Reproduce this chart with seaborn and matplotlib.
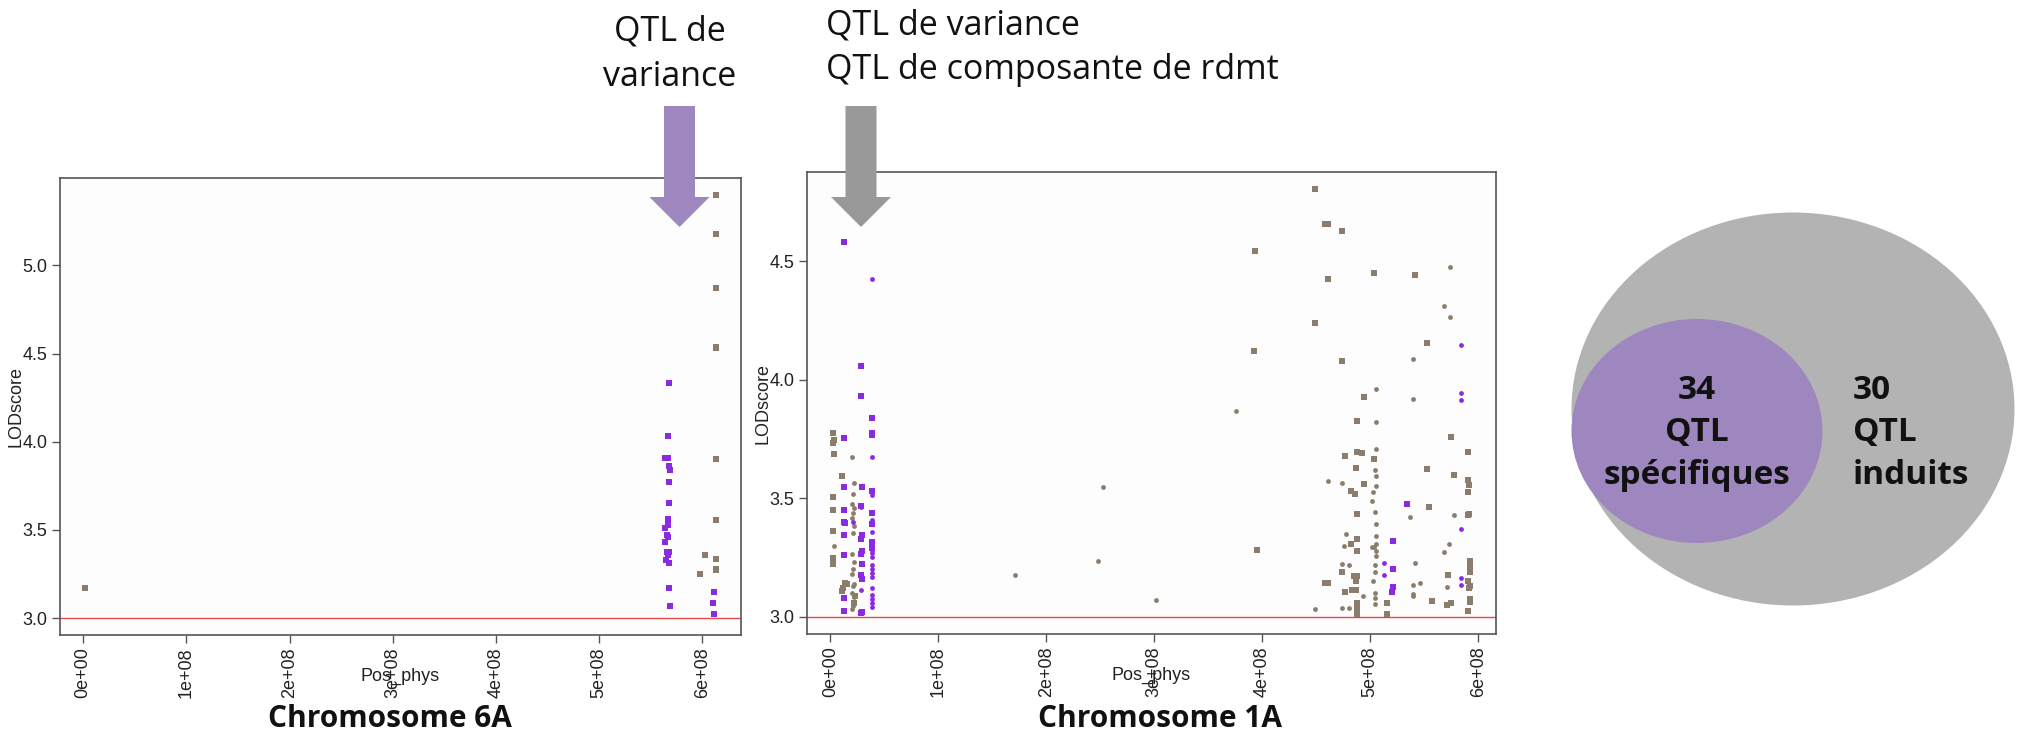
import pandas as pd
import numpy as np
import seaborn as sns
import matplotlib.pyplot as plt
from matplotlib.patches import Ellipse, Polygon

# ---------------- data (positions in Mb, LOD score) ----------------
# Chromosome 6A
c6a_brun_sq_x = [2, 613, 613, 613, 613, 613, 613, 613, 613, 613, 613, 603, 598]
c6a_brun_sq_y = [3.17, 5.40, 5.18, 4.87, 4.54, 4.53, 3.90, 3.555, 3.335, 3.28, 3.27, 3.355, 3.25]
c6a_violet_sq_x = [568, 567, 564, 567, 568, 569, 568, 568, 567, 567, 564, 566, 567, 564,
                   566, 568, 567, 565, 568, 568, 569, 611, 610, 611]
c6a_violet_sq_y = [4.335, 4.03, 3.91, 3.91, 3.86, 3.84, 3.77, 3.65, 3.56, 3.53, 3.51, 3.47, 3.46, 3.43,
                   3.375, 3.375, 3.355, 3.33, 3.31, 3.17, 3.07, 3.15, 3.085, 3.025]

# Chromosome 1A
c1a_brun_sq_x = [2, 3, 2, 3, 2, 2, 2, 2, 2, 11, 14, 11, 15, 12, 22, 23,
                 392.6, 393.5, 395,
                 449.3, 458.6, 461.1, 474.0, 461.1, 503.6, 449.3, 474.0, 494.3, 488.1, 476.5, 488.1,
                 492.1, 503.6, 486.5, 494.3, 481.8, 485.6, 488.1, 488.1, 481.8, 488.1, 474.0, 458.6,
                 461.1, 485.0, 488.1, 486.5, 483.4, 486.5, 476.5, 488.1, 488.1, 488.1, 488.1, 516.0, 516.0,
                 541.4, 552.8, 574.7, 590.5, 552.8, 577.5, 590.8, 591.4, 590.5, 554.3, 590.8, 591.4,
                 571.9, 592.0, 592.0, 592.9, 590.8, 592.0, 591.4, 592.9, 592.3, 556.8, 574.4, 571.3, 590.5]
c1a_brun_sq_y = [3.777, 3.746, 3.735, 3.688, 3.504, 3.45, 3.364, 3.25, 3.225, 3.596, 3.145, 3.11, 3.14, 3.12, 3.06, 3.09,
                 4.122, 4.545, 3.28,
                 4.804, 4.656, 4.656, 4.628, 4.423, 4.451, 4.241, 4.080, 3.929, 3.825, 3.678, 3.697,
                 3.690, 3.667, 3.627, 3.559, 3.531, 3.517, 3.432, 3.327, 3.308, 3.278, 3.190, 3.143,
                 3.143, 3.171, 3.171, 3.150, 3.115, 3.115, 3.105, 3.060, 3.039, 3.018, 3.008, 3.060, 3.014,
                 4.441, 4.157, 3.758, 3.695, 3.625, 3.600, 3.576, 3.555, 3.527, 3.462, 3.429, 3.436,
                 3.176, 3.234, 3.216, 3.189, 3.150, 3.129, 3.120, 3.077, 3.063, 3.069, 3.060, 3.049, 3.025]
c1a_brun_pt_x = [20, 22, 21, 20, 22, 21, 20, 22, 21, 20, 22, 21, 20, 22, 21, 20, 22, 21, 20, 3.6,
                 170.7, 248, 252.5, 301.4, 376,
                 505.8, 505.8, 505.2, 504.5, 505.2, 505.2, 461.1, 474.0, 503.0, 502.0, 504.5, 505.2,
                 505.2, 505.2, 501.4, 503.6, 505.2, 505.2, 504.5, 478.0, 475.6, 474.0, 480.6, 503.0,
                 504.2, 504.5, 504.2, 493.0, 475.6, 474.0, 480.6, 449.3, 504.5,
                 573.5, 568.2, 573.8, 539.5, 539.5, 536.7, 577.5, 573.2, 568.2, 541.4, 539.5, 545.7,
                 539.5, 539.5, 571.3]
c1a_brun_pt_y = [3.674, 3.566, 3.52, 3.476, 3.458, 3.438, 3.415, 3.384, 3.353, 3.265, 3.23, 3.2, 3.18,
                 3.137, 3.13, 3.1, 3.068, 3.048, 3.035, 3.30,
                 3.176, 3.237, 3.546, 3.071, 3.868,
                 3.960, 3.822, 3.709, 3.621, 3.593, 3.552, 3.572, 3.566, 3.525, 3.490, 3.443, 3.392,
                 3.341, 3.306, 3.294, 3.294, 3.276, 3.255, 3.220, 3.348, 3.297, 3.223, 3.220, 3.150,
                 3.101, 3.080, 3.053, 3.090, 3.105, 3.039, 3.039, 3.032, 3.190,
                 4.474, 4.313, 4.265, 4.087, 3.919, 3.422, 3.429, 3.308, 3.272, 3.227, 3.136, 3.143,
                 3.097, 3.087, 3.125]
c1a_violet_sq_x = [13, 13, 13, 13, 13, 14, 13, 13, 13, 13,
                   28, 28, 29, 28, 29, 28, 29, 28, 29, 28, 29, 28, 29,
                   38.5, 38.5, 38.5, 38.5, 38.5, 38.5, 38.5, 38.5, 38.5,
                   520.7, 520.7, 521.5, 520.4, 534.3]
c1a_violet_sq_y = [4.583, 3.754, 3.546, 3.449, 3.40, 3.395, 3.347, 3.26, 3.08, 3.026,
                   4.057, 3.931, 3.546, 3.469, 3.345, 3.33, 3.276, 3.264, 3.222, 3.176, 3.16, 3.018, 3.02,
                   3.839, 3.777, 3.766, 3.438, 3.39, 3.315, 3.304, 3.29, 3.53,
                   3.318, 3.201, 3.127, 3.105, 3.478]
c1a_violet_pt_x = [28, 28, 21, 39, 39, 39, 39, 39, 39, 39, 39, 39, 39, 39, 39, 39, 39, 39, 39, 39,
                   512.9, 512.9, 584.3, 584.3, 584.3, 583.7, 583.7, 583.7]
c1a_violet_pt_y = [3.464, 3.114, 3.40, 4.424, 3.674, 3.515, 3.407, 3.358, 3.284, 3.253, 3.217, 3.183,
                   3.168, 3.122, 3.091, 3.076, 3.042, 3.06, 3.27, 3.20,
                   3.227, 3.176, 4.147, 3.944, 3.916, 3.369, 3.164, 3.136]

# Venn counts
n_specifiques = 34
n_induits = 30

seuil = 3.0
couleurs = {'variance': '#8A2BE2', 'autre': '#8B7D6B'}


def tableau(series):
    parts = []
    for x, y, qtl, forme in series:
        parts.append(pd.DataFrame({'Pos_phys': np.array(x) * 1e6, 'LODscore': y,
                                   'qtl': qtl, 'forme': forme}))
    return pd.concat(parts, ignore_index=True)


df6a = tableau([(c6a_brun_sq_x, c6a_brun_sq_y, 'autre', 'carre'),
                (c6a_violet_sq_x, c6a_violet_sq_y, 'variance', 'carre')])
df1a = tableau([(c1a_brun_sq_x, c1a_brun_sq_y, 'autre', 'carre'),
                (c1a_brun_pt_x, c1a_brun_pt_y, 'autre', 'point'),
                (c1a_violet_sq_x, c1a_violet_sq_y, 'variance', 'carre'),
                (c1a_violet_pt_x, c1a_violet_pt_y, 'variance', 'point')])

sns.set_style('white')
plt.rcParams['font.family'] = ['Liberation Sans', 'DejaVu Sans']

fig = plt.figure(figsize=(20.25, 7.36), dpi=100)
W, H = 2025, 736


def panel(rect, df, yticks):
    ax = fig.add_axes(rect)
    ax.set_facecolor('#fdfdfd')
    for qtl in ['autre', 'variance']:
        for forme, mk, s in [('carre', 's', 15), ('point', 'o', 12)]:
            sub = df[(df.qtl == qtl) & (df.forme == forme)]
            if len(sub):
                sns.scatterplot(data=sub, x='Pos_phys', y='LODscore', color=couleurs[qtl],
                                marker=mk, s=s, linewidth=0, legend=False, ax=ax)
    ax.axhline(seuil, color='#e8484a', lw=1)
    # R style 4% padding
    for col, setter in [('Pos_phys', ax.set_xlim), ('LODscore', ax.set_ylim)]:
        lo, hi = df[col].min(), df[col].max()
        if col == 'LODscore':
            lo = min(lo, seuil)
        setter(lo - 0.04 * (hi - lo), hi + 0.04 * (hi - lo))
    xt = np.arange(0, 7) * 1e8
    ax.set_xticks(xt)
    ax.set_xticklabels([f'{v:.0e}' for v in xt], rotation=90)
    ax.set_yticks(yticks)
    ax.set_yticklabels([f'{v:.1f}' for v in yticks])
    ax.tick_params(axis='both', direction='out', length=6, width=1, color='#555555',
                   labelsize=13, labelcolor='#222222', pad=3, bottom=True, left=True)
    for sp in ax.spines.values():
        sp.set_color('#555555')
        sp.set_linewidth(1.2)
    ax.set_xlabel('Pos_phys', fontsize=13, color='#222222')
    ax.set_ylabel('LODscore', fontsize=13, color='#222222')
    ax.xaxis.set_label_coords(0.5, -0.072)
    ax.yaxis.set_label_coords(-0.052, 0.5)
    return ax


ax1 = panel([60 / W, 101 / H, 681 / W, 457 / H], df6a, [3.0, 3.5, 4.0, 4.5, 5.0])
ax2 = panel([807 / W, 102 / H, 689 / W, 462 / H], df1a, [3.0, 3.5, 4.0, 4.5])

# overlay in pixel coordinates for annotations
ov = fig.add_axes([0, 0, 1, 1])
ov.set_xlim(0, W)
ov.set_ylim(H, 0)
ov.axis('off')
ov.patch.set_alpha(0)

violet_clair = '#9e86be'
gris = '#999999'


def fleche(cx, couleur):
    pts = [(cx - 15.5, 106), (cx + 15.5, 106), (cx + 15.5, 197), (cx + 30, 197),
           (cx, 227), (cx - 30, 197), (cx - 15.5, 197)]
    ov.add_patch(Polygon(pts, closed=True, color=couleur, lw=0))


fleche(679.5, violet_clair)
fleche(861, gris)

ftxt = ['Open Sans', 'DejaVu Sans']
ov.text(670, 40, 'QTL de', ha='center', va='baseline', fontsize=24.5, family=ftxt, color='#111111')
ov.text(670, 86, 'variance', ha='center', va='baseline', fontsize=24.5, family=ftxt, color='#111111')
ov.text(826, 34, 'QTL de variance', ha='left', va='baseline', fontsize=24.5, family=ftxt, color='#111111')
ov.text(826, 79, 'QTL de composante de rdmt', ha='left', va='baseline', fontsize=24.5, family=ftxt,
        color='#111111')

ov.text(390, 719, 'Chromosome 6A', ha='center', va='center', fontsize=21.5, family=ftxt,
        fontweight='bold', color='#111111')
ov.text(1160, 719, 'Chromosome 1A', ha='center', va='center', fontsize=21.5, family=ftxt,
        fontweight='bold', color='#111111')

# Venn diagram
ov.add_patch(Ellipse((1793, 409), 443, 393, color='#b3b3b3', lw=0))
ov.add_patch(Ellipse((1697, 431), 251, 224, color=violet_clair, lw=0))
ov.text(1697, 433, f'{n_specifiques}\nQTL\nspécifiques', ha='center', va='center', fontsize=24,
        family=ftxt, fontweight='bold', linespacing=1.38, color='#111111')
ov.text(1853, 433, f'{n_induits}\nQTL\ninduits', ha='left', va='center', fontsize=24,
        family=ftxt, fontweight='bold', linespacing=1.38, color='#111111')

fig.savefig('out.png', dpi=100, facecolor='white')
